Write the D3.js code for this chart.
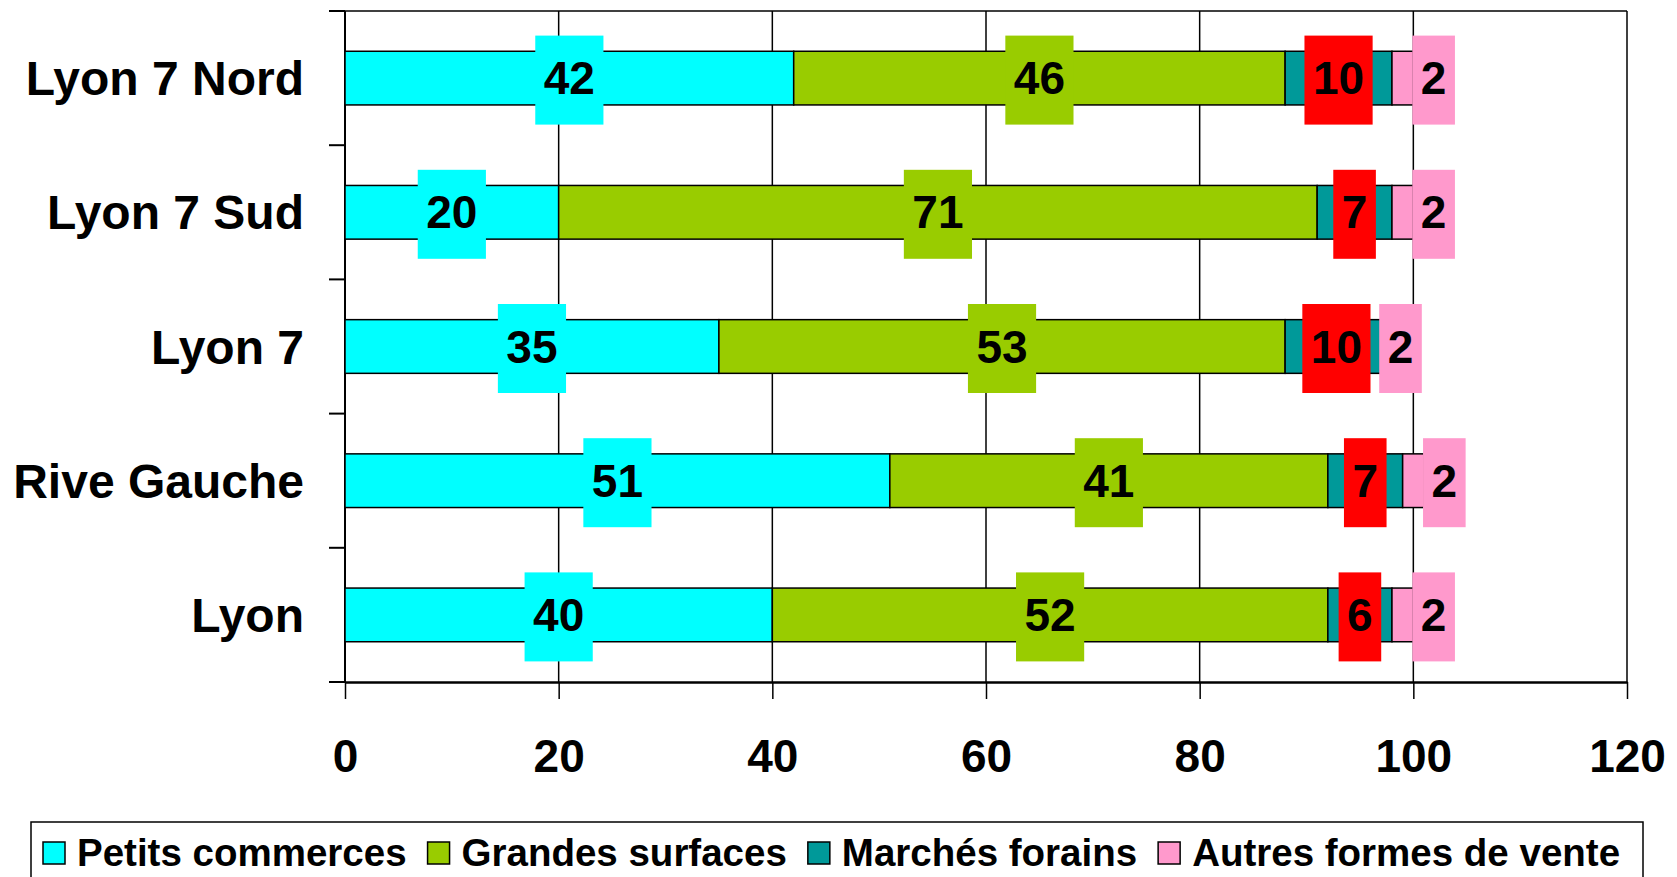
<!DOCTYPE html>
<html>
<head>
<meta charset="utf-8">
<script src="https://cdn.jsdelivr.net/npm/d3@7"></script>
<style>
  body { margin: 0; background: #fff; }
  text { font-family: "Liberation Sans", Arial, sans-serif; font-weight: bold; fill: #000; }
</style>
</head>
<body>
<svg width="1677" height="877"></svg>
<script>
// categories (top to bottom) and series values
const categories = ["Lyon 7 Nord", "Lyon 7 Sud", "Lyon 7", "Rive Gauche", "Lyon"];
const seriesNames = ["Petits commerces", "Grandes surfaces", "Marchés forains", "Autres formes de vente"];
const petitsCommerces = [42, 20, 35, 51, 40];
const grandesSurfaces = [46, 71, 53, 41, 52];
const marchesForains = [10, 7, 9.6, 7, 6];
const autresFormes = [2, 2, 2.4, 2, 2];
const xTicks = [0, 20, 40, 60, 80, 100, 120];

var svg = d3.select("svg"),
    width = +svg.attr("width"),
    height = +svg.attr("height");

var fills = ["#00FFFF", "#99CC00", "#009999", "#FF99CC"];
var labelFills = ["#00FFFF", "#99CC00", "#FF0000", "#FF99CC"];

// build rows for the stack
var rows = categories.map((c, i) => ({
    cat: c,
    [seriesNames[0]]: petitsCommerces[i],
    [seriesNames[1]]: grandesSurfaces[i],
    [seriesNames[2]]: marchesForains[i],
    [seriesNames[3]]: autresFormes[i],
}));
var stacked = d3.stack().keys(seriesNames)(rows);

// scales
var x = d3.scaleLinear().domain([0, 120]).range([345, 1627]);
var y = d3.scaleBand().domain(categories).range([11, 682])
    .paddingInner(0.6).paddingOuter(0.3);

// plot frame + gridlines
svg.append("g")
    .selectAll("line")
    .data(xTicks.slice(1))
    .enter()
    .append("line")
    .attr("x1", d => x(d)).attr("x2", d => x(d))
    .attr("y1", 11).attr("y2", 682)
    .attr("stroke", "#000").attr("stroke-width", 1.5);

svg.append("line")
    .attr("x1", x(0)).attr("x2", x(120))
    .attr("y1", 11).attr("y2", 11)
    .attr("stroke", "#000").attr("stroke-width", 1.5);

// x axis
var xAxis = svg.append("g")
    .attr("transform", "translate(0,682)")
    .call(d3.axisBottom(x).tickValues(xTicks).tickSize(17).tickPadding(40).tickSizeOuter(0));
xAxis.select(".domain").attr("stroke-width", 2.5);
xAxis.selectAll(".tick line").attr("stroke-width", 1.5);
xAxis.selectAll("text")
    .attr("font-size", 46)
    .attr("font-family", "Liberation Sans, Arial, sans-serif")
    .attr("font-weight", "bold")
    .attr("fill", "#000");

// y axis line + ticks on band boundaries
svg.append("line")
    .attr("x1", x(0)).attr("x2", x(0))
    .attr("y1", 11).attr("y2", 682)
    .attr("stroke", "#000").attr("stroke-width", 2);

svg.append("g")
    .selectAll("line")
    .data(d3.range(categories.length + 1))
    .enter()
    .append("line")
    .attr("x1", x(0) - 16).attr("x2", x(0))
    .attr("y1", i => 11 + i * y.step())
    .attr("y2", i => 11 + i * y.step())
    .attr("stroke", "#000").attr("stroke-width", 2);

// category labels
svg.append("g")
    .selectAll("text")
    .data(categories)
    .enter()
    .append("text")
    .attr("x", 304)
    .attr("y", d => y(d) + y.bandwidth() / 2 + 17)
    .attr("text-anchor", "end")
    .attr("font-size", 48)
    .text(d => d);

// bars
var layers = svg.append("g")
    .selectAll("g")
    .data(stacked)
    .enter()
    .append("g")
    .attr("fill", (d, i) => fills[i]);

layers.selectAll("rect")
    .data(d => d)
    .enter()
    .append("rect")
    .attr("x", d => x(d[0]))
    .attr("y", d => y(d.data.cat))
    .attr("width", d => x(d[1]) - x(d[0]))
    .attr("height", y.bandwidth())
    .attr("stroke", "#000")
    .attr("stroke-width", 1.5);

// value labels with coloured boxes
var fmt = d3.format(".0f");
var lastKey = seriesNames[seriesNames.length - 1];

stacked.forEach((layer, i) => {
    layer.forEach(d => {
        var cx = (x(d[0]) + x(d[1])) / 2;
        // the last series' labels sit pushed right of their segment (Excel placement)
        if (layer.key === lastKey && d.data.cat !== "Lyon 7") cx += 31;
        var cy = y(d.data.cat) + y.bandwidth() / 2 + 2;

        var g = svg.append("g");
        var box = g.append("rect").attr("fill", labelFills[i]);
        var t = g.append("text")
            .attr("x", cx)
            .attr("y", cy + 14)
            .attr("text-anchor", "middle")
            .attr("font-size", 46)
            .text(fmt(d[1] - d[0]));
        var w = t.node().getComputedTextLength() + 17;
        box.attr("x", cx - w / 2)
            .attr("y", cy - 44.5)
            .attr("width", w)
            .attr("height", 89);
    });
});

// legend
var legend = svg.append("g").attr("id", "legend");
legend.append("rect")
    .attr("x", 31).attr("y", 822)
    .attr("width", 1612).attr("height", 80)
    .attr("fill", "#fff")
    .attr("stroke", "#000").attr("stroke-width", 1.5);

var lx = 43;
seriesNames.forEach((name, i) => {
    legend.append("rect")
        .attr("x", lx).attr("y", 842)
        .attr("width", 22).attr("height", 22)
        .attr("fill", fills[i])
        .attr("stroke", "#000").attr("stroke-width", 1.5);
    var t = legend.append("text")
        .attr("x", lx + 34)
        .attr("y", 866)
        .attr("font-size", 38.5)
        .text(name);
    lx += 34 + t.node().getComputedTextLength() + 21;
});
</script>
</body>
</html>
